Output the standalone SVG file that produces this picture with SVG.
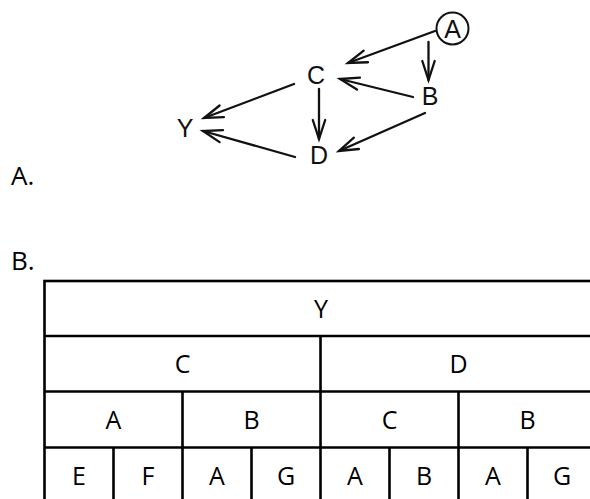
<svg xmlns="http://www.w3.org/2000/svg" width="590" height="499" viewBox="0 0 590 499">
  <defs>
    <!-- open V arrowhead used by every connector -->
    <marker id="vhead" markerUnits="userSpaceOnUse" markerWidth="30" markerHeight="30" viewBox="-25 -15 30 30" refX="0" refY="0" orient="auto" overflow="visible">
      <path d="M-19,-6.2 L0,0 L-19,6.2" fill="none" stroke="#111" stroke-width="2.3" stroke-linecap="round" stroke-linejoin="miter"/>
    </marker>
  </defs>
  <style>
    .bg { fill: #ffffff; }
    .node { font-family: "Liberation Sans", Arial, sans-serif; font-size: 25px; fill: #111; text-anchor: middle; }
    .edge { fill: none; stroke: #111; stroke-width: 2.3; stroke-linecap: round; marker-end: url(#vhead); }
    .ring { fill: none; stroke: #111; stroke-width: 2; }
    .lbl { font-family: "Open Sans", "Noto Sans", sans-serif; font-size: 26px; fill: #000; }
    .cell { font-family: "Open Sans", "Noto Sans", sans-serif; font-size: 25px; fill: #000; text-anchor: middle; }
    .grid { fill: none; stroke: #000; stroke-width: 2.6; }
  </style>

  <rect class="bg" x="0" y="0" width="590" height="499"/>

  <!-- section labels -->
  <text class="lbl" x="11" y="185">A.</text>
  <text class="lbl" x="11" y="270">B.</text>

  <!-- part A: causal graph -->
  <g id="edges">
    <line class="edge" x1="435" y1="31" x2="348" y2="63"/>
    <line class="edge" x1="428.5" y1="42" x2="428.5" y2="80"/>
    <line class="edge" x1="413" y1="97" x2="340" y2="79"/>
    <line class="edge" x1="294" y1="84" x2="204" y2="118"/>
    <line class="edge" x1="319" y1="89" x2="319" y2="139"/>
    <line class="edge" x1="425" y1="113" x2="339" y2="151"/>
    <line class="edge" x1="295" y1="157" x2="203" y2="131"/>
  </g>

  <g id="node-A">
    <circle class="ring" cx="452.5" cy="28.5" r="16"/>
    <text class="node" x="452.5" y="37.5">A</text>
  </g>
  <g id="node-B">
    <text class="node" x="430" y="104.5">B</text>
  </g>
  <g id="node-C">
    <text class="node" x="316" y="83.5">C</text>
  </g>
  <g id="node-D">
    <text class="node" x="319" y="163.5">D</text>
  </g>
  <g id="node-Y">
    <text class="node" x="185" y="136.5">Y</text>
  </g>

  <!-- part B: nested table -->
  <g id="table">
    <rect class="grid" x="44.5" y="281" width="552" height="224"/>
    <line class="grid" x1="44.5" y1="336" x2="597" y2="336"/>
    <line class="grid" x1="44.5" y1="391.5" x2="597" y2="391.5"/>
    <line class="grid" x1="44.5" y1="447.5" x2="597" y2="447.5"/>
    <!-- level 2 split -->
    <line class="grid" x1="320.5" y1="336" x2="320.5" y2="505"/>
    <!-- level 3 splits -->
    <line class="grid" x1="182.5" y1="391.5" x2="182.5" y2="505"/>
    <line class="grid" x1="458.5" y1="391.5" x2="458.5" y2="505"/>
    <!-- level 4 splits -->
    <line class="grid" x1="113.5" y1="447.5" x2="113.5" y2="505"/>
    <line class="grid" x1="251.5" y1="447.5" x2="251.5" y2="505"/>
    <line class="grid" x1="389.5" y1="447.5" x2="389.5" y2="505"/>
    <line class="grid" x1="527.5" y1="447.5" x2="527.5" y2="505"/>

    <text class="cell" x="321" y="317.5">Y</text>

    <text class="cell" x="182.5" y="373">C</text>
    <text class="cell" x="458.5" y="373">D</text>

    <text class="cell" x="113.5" y="428.5">A</text>
    <text class="cell" x="251.5" y="428.5">B</text>
    <text class="cell" x="389.5" y="428.5">C</text>
    <text class="cell" x="527.5" y="428.5">B</text>

    <text class="cell" x="79" y="485">E</text>
    <text class="cell" x="148" y="485">F</text>
    <text class="cell" x="217" y="485">A</text>
    <text class="cell" x="286" y="485">G</text>
    <text class="cell" x="355" y="485">A</text>
    <text class="cell" x="424" y="485">B</text>
    <text class="cell" x="493" y="485">A</text>
    <text class="cell" x="562" y="485">G</text>
  </g>
</svg>
